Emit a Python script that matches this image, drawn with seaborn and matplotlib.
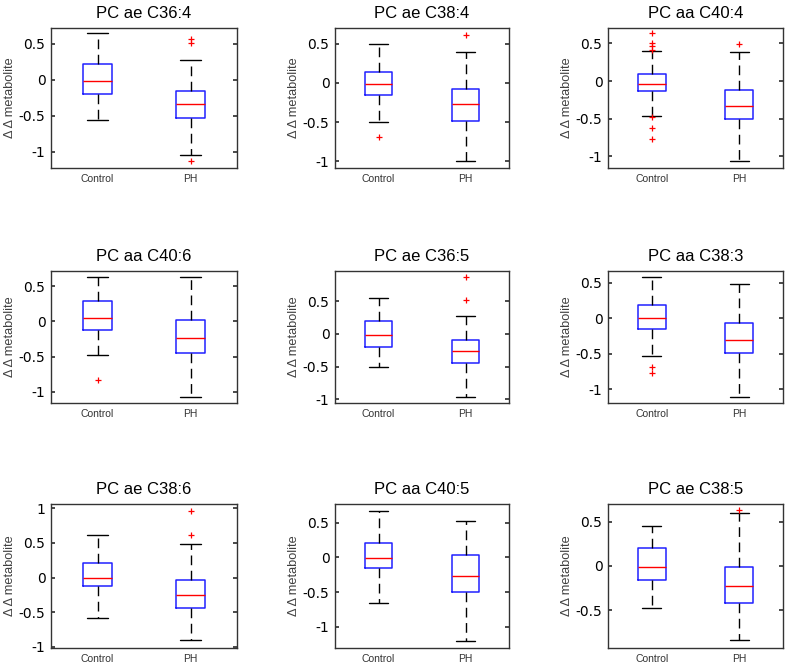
import matplotlib
matplotlib.use("Agg")
import matplotlib.pyplot as plt
from matplotlib.ticker import FuncFormatter
import numpy as np
import pandas as pd
import seaborn as sns

sns.set_theme(style="white")
plt.rcParams["font.family"] = ["Liberation Sans", "DejaVu Sans"]
plt.rcParams["axes.unicode_minus"] = False

titles = ["PC ae C36:4", "PC ae C38:4", "PC aa C40:4",
          "PC aa C40:6", "PC ae C36:5", "PC aa C38:3",
          "PC ae C38:6", "PC aa C40:5", "PC ae C38:5"]
groups = ["Control", "PH"]

# five-number summaries: [lower whisker, Q1, median, Q3, upper whisker]
control_stats = [
    [-0.564, -0.198, -0.018, 0.217, 0.640],
    [-0.500, -0.152, -0.017, 0.145, 0.500],
    [-0.470, -0.129, -0.044, 0.097, 0.393],
    [-0.481, -0.119, 0.047, 0.286, 0.628],
    [-0.505, -0.199, -0.015, 0.204, 0.541],
    [-0.522, -0.151, 0.005, 0.183, 0.587],
    [-0.587, -0.120, -0.010, 0.207, 0.612],
    [-0.648, -0.150, -0.014, 0.211, 0.672],
    [-0.474, -0.162, -0.008, 0.207, 0.455],
]
ph_stats = [
    [-1.039, -0.526, -0.332, -0.162, 0.273],
    [-1.000, -0.490, -0.275, -0.071, 0.394],
    [-1.062, -0.505, -0.332, -0.120, 0.380],
    [-1.076, -0.443, -0.233, 0.024, 0.638],
    [-0.964, -0.444, -0.255, -0.087, 0.276],
    [-1.100, -0.490, -0.306, -0.066, 0.484],
    [-0.904, -0.442, -0.255, -0.034, 0.486],
    [-1.200, -0.490, -0.274, 0.038, 0.519],
    [-0.835, -0.421, -0.222, -0.008, 0.598],
]
control_outliers = [
    [],
    [-0.69],
    [0.637, 0.51, 0.46, 0.41, -0.48, -0.62, -0.767],
    [-0.829],
    [],
    [-0.683, -0.762],
    [],
    [],
    [],
]
ph_outliers = [
    [0.57, 0.51, -1.13],
    [0.619],
    [0.495],
    [],
    [0.873, 0.511],
    [],
    [0.967, 0.62],
    [],
    [0.635],
]
ylims = [(-1.223, 0.716), (-1.088, 0.704), (-1.155, 0.704),
         (-1.162, 0.719), (-1.056, 0.960), (-1.190, 0.667),
         (-1.019, 1.063), (-1.302, 0.768), (-0.925, 0.699)]
yticks = [[-1, -0.5, 0, 0.5]] * 6 + [[-1, -0.5, 0, 0.5, 1],
                                      [-1, -0.5, 0, 0.5],
                                      [-0.5, 0, 0.5]]

W, H = 787, 664
fig = plt.figure(figsize=(W / 100, H / 100), dpi=100)
col_lr = [(51, 237), (335, 509), (608, 783)]
row_tb = [(28, 168), (271, 403), (504, 648)]

fmt = FuncFormatter(lambda v, p: "%g" % v)

for i in range(9):
    r, c = divmod(i, 3)
    l, rr = col_lr[c]
    t, b = row_tb[r]
    ax = fig.add_axes([l / W, 1 - b / H, (rr - l) / W, (b - t) / H])
    df = pd.DataFrame({
        "group": ["Control"] * 5 + ["PH"] * 5,
        "value": control_stats[i] + ph_stats[i],
    })
    box_kws = dict(data=df, x="group", y="value", order=groups, ax=ax,
                   whis=(0, 100), width=0.32, fill=False, color="blue",
                   linewidth=1, showfliers=False,
                   boxprops=dict(color="#2020ff", linewidth=1.1),
                   medianprops=dict(color="red", linewidth=1.0),
                   whiskerprops=dict(color="black", linewidth=1.0,
                                     linestyle=(0, (7, 4))),
                   capprops=dict(color="black", linewidth=1.0))
    try:
        sns.boxplot(capwidths=0.22, **box_kws)
    except TypeError:
        ax.cla()
        sns.boxplot(**box_kws)
    out = pd.DataFrame({
        "group": ["Control"] * len(control_outliers[i]) + ["PH"] * len(ph_outliers[i]),
        "value": control_outliers[i] + ph_outliers[i],
    })
    if len(out):
        sns.stripplot(data=out, x="group", y="value", order=groups, ax=ax,
                      jitter=False, marker="+", color="red", size=5,
                      linewidth=0.9)
    ax.set_xlim(-0.5, 1.5)
    ax.set_ylim(*ylims[i])
    ax.set_yticks(yticks[i])
    ax.yaxis.set_major_formatter(fmt)
    for lab in ax.get_yticklabels():
        lab.set_fontfamily("DejaVu Sans")
    ax.set_xlabel("")
    ax.set_ylabel("Δ Δ metabolite", fontsize=9.2, color="#404040", labelpad=2)
    ax.set_title(titles[i], fontsize=12, color="black", pad=7)
    ax.tick_params(axis="y", which="both", direction="in", length=3,
                   left=True, right=True, labelsize=10, labelcolor="black",
                   color="#333333", pad=4)
    ax.tick_params(axis="x", length=0, labelsize=7.5, labelcolor="#333333", pad=4)
    for s in ax.spines.values():
        s.set_visible(True)
        s.set_color("#333333")
        s.set_linewidth(1.0)

fig.savefig("out.png", dpi=100)
